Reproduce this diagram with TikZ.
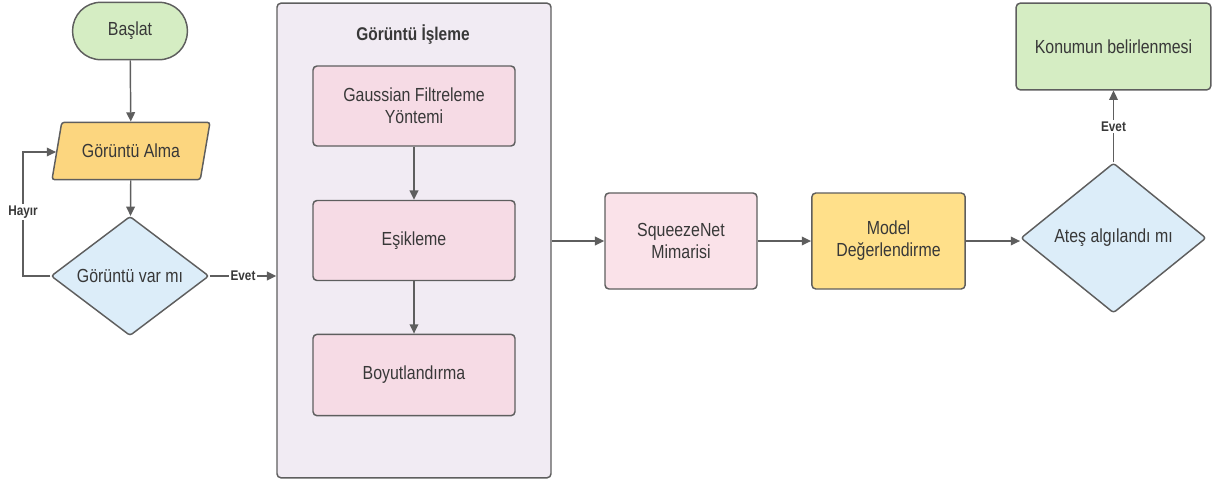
\documentclass[tikz,border=0pt]{standalone}
\usepackage{fontspec}
\setmainfont[FakeStretch=0.84]{Liberation Sans}
\usetikzlibrary{shapes.geometric,arrows.meta}

\definecolor{startgreen}{HTML}{D5EDC3}
\definecolor{inputorange}{HTML}{FCD67F}
\definecolor{askblue}{HTML}{DCEDF9}
\definecolor{steppink}{HTML}{F6DBE5}
\definecolor{netpink}{HTML}{FAE2E9}
\definecolor{evalyellow}{HTML}{FFE08A}
\definecolor{framelilac}{HTML}{F1EBF3}
\definecolor{edgegray}{HTML}{5E5E5E}

\begin{document}
\begin{tikzpicture}[x=0.75pt,y=-0.75pt,line width=1.1pt,
		every node/.style={font=\fontsize{14.2}{16.5}\selectfont,text=black!78,align=center},
		box/.style={draw=edgegray,rounded corners=3pt,inner sep=0pt},
		flow/.style={draw=edgegray,-{Triangle[length=7pt,width=6.5pt]}},
		tag/.style={font=\bfseries\fontsize{10.5}{12}\selectfont,fill=white,inner sep=1pt}]
	\useasboundingbox (0,0) rectangle (1215,483);

	% left column
	\node[box,fill=startgreen,rounded corners=21pt,minimum width=86pt,minimum height=43pt] (baslat) at (130,31) {Başlat};
	\node[draw=edgegray,fill=inputorange,trapezium,trapezium left angle=80,trapezium right angle=100,
		trapezium stretches body,rounded corners=2pt,minimum width=118.5pt,minimum height=43pt,
		inner xsep=0pt,inner ysep=15.5pt] (alma) at (131,151) {Görüntü Alma};
	\node[draw=edgegray,fill=askblue,diamond,rounded corners=2pt,minimum width=118.5pt,minimum height=84pt,inner sep=0pt] (varmi) at (130,276) {Görüntü var mı};

	% image processing group
	\node[box,fill=framelilac,minimum width=205.5pt,minimum height=356pt] (islem) at (414,240.5) {};
	\node[font=\bfseries\fontsize{13.8}{16}\selectfont] (islembaslik) at (413,35) {Görüntü İşleme};
	\node[box,fill=steppink,minimum width=151.5pt,minimum height=60pt] (gauss) at (414,106) {Gaussian Filtreleme\\Yöntemi};
	\node[box,fill=steppink,minimum width=151.5pt,minimum height=60pt] (esik) at (414,240.5) {Eşikleme};
	\node[box,fill=steppink,minimum width=151.5pt,minimum height=61pt] (boyut) at (414,375) {Boyutlandırma};

	% right part
	\node[box,fill=netpink,minimum width=114pt,minimum height=72pt] (squeeze) at (681,241) {SqueezeNet\\Mimarisi};
	\node[box,fill=evalyellow,minimum width=115pt,minimum height=72pt] (model) at (888.5,241) {Model\\Değerlendirme};
	\node[draw=edgegray,fill=askblue,diamond,rounded corners=2pt,minimum width=139pt,minimum height=112.5pt,inner sep=0pt] (ates) at (1113.5,238) {Ateş algılandı mı};
	\node[box,fill=startgreen,minimum width=146pt,minimum height=65pt] (konum) at (1113.5,46.5) {Konumun belirlenmesi};

	\draw[flow] (baslat) -- (alma);
	\draw[flow] (alma) -- (varmi);
	\draw[flow] (varmi.west) -- (23,276) -- (23,152) -- (alma.west |- 0,152);
	\node[tag] (hayir) at (23,212) {Hayır};
	\draw[flow] (varmi.east) -- (islem.west |- varmi.east) node[tag,midway] (evet1) {Evet};
	\draw[flow] (gauss) -- (esik);
	\draw[flow] (esik) -- (boyut);
	\draw[flow] (islem.east |- squeeze.west) -- (squeeze.west);
	\draw[flow] (squeeze) -- (model);
	\draw[flow] (model.east) -- (ates.west |- model.east);
	\draw[flow] (ates.north) -- (konum.south) node[tag,midway] (evet2) {Evet};
\end{tikzpicture}
\end{document}
